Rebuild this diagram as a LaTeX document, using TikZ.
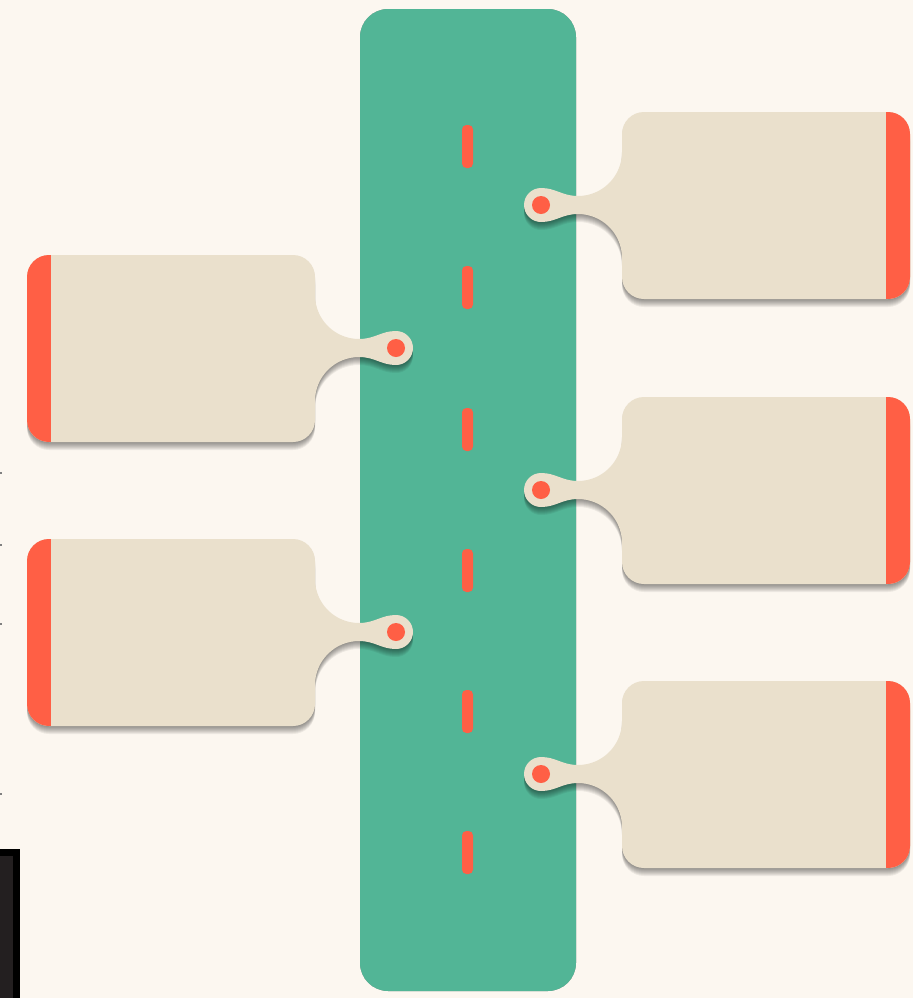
\documentclass[tikz,border=0pt]{standalone}
\usepackage{tikz}

\definecolor{bgcream}{RGB}{252,247,240}
\definecolor{roadgreen}{RGB}{82,181,150}
\definecolor{markorange}{RGB}{255,95,69}
\definecolor{cardbeige}{RGB}{234,224,204}
\definecolor{framedark}{RGB}{35,31,32}

% カードの輪郭 (#1 = 上端のy)
\newcommand{\cardoutline}[1]{(644,#1) -- (888,#1) arc (-90:0:22) -- (910,#1+165) arc (0:90:22)
 -- (644,#1+187) arc (90:180:22) -- (622,#1+146) arc (0:-90:44)
 .. controls (562,#1+102) and (556,#1+110) .. (541,#1+110) arc (90:270:17)
 .. controls (556,#1+76) and (562,#1+84) .. (578,#1+84) arc (90:0:44)
 -- (622,#1+22) arc (180:270:22) -- cycle}

\begin{document}
\begin{tikzpicture}[x=0.02cm, y=-0.02cm,
 shadowlayer/.style={fill=black, opacity=0.06},
 roadmark/.style={fill=markorange, rounded corners=2.5pt}]
 \coordinate (PicNW) at (0,0); % 左上
 \coordinate (PicSE) at (913,998); % 右下
 \coordinate (RoadNW) at (360,9); % 道の左上
 \coordinate (RoadSE) at (576,991); % 道の右下

 \useasboundingbox (PicNW) rectangle (PicSE); % 範囲
 \fill[bgcream] (PicNW) rectangle (PicSE); % 背景

 \foreach \s in {1,...,8}
  \fill[shadowlayer, shift={(0,\s)}, rounded corners=16pt] (RoadNW) rectangle (RoadSE); % 道の影
 \fill[roadgreen, rounded corners=16pt] (RoadNW) rectangle (RoadSE); % 道

 \foreach \y in {125,266,408,549,690,831}
  \fill[roadmark] (462,\y) rectangle (473,\y+43); % 中央線

 \foreach \T/\m in {112/1, 397/1, 681/1, 255/-1, 539/-1} {
  \begin{scope}[shift={(468.5,0)}, xscale=\m, shift={(-468.5,0)}]
   \foreach \s in {1,...,8}
    \fill[shadowlayer, shift={(0,\s)}] \cardoutline{\T}; % 影
   \fill[cardbeige] \cardoutline{\T}; % カード
   \begin{scope}
    \clip \cardoutline{\T};
    \fill[markorange] (886,\T) rectangle (912,\T+187); % 端の帯
   \end{scope}
   \fill[markorange] (541,\T+93) circle (9); % 点
  \end{scope}
 }

 \fill[black] (0,849) rectangle (20,998); % 枠
 \fill[framedark] (0,856) rectangle (13,998); % 枠の中

 \foreach \y in {473,545,624,794}
  \draw[gray, line width=0.8pt] (0,\y) -- (2,\y); % 目盛
\end{tikzpicture}
\end{document}
